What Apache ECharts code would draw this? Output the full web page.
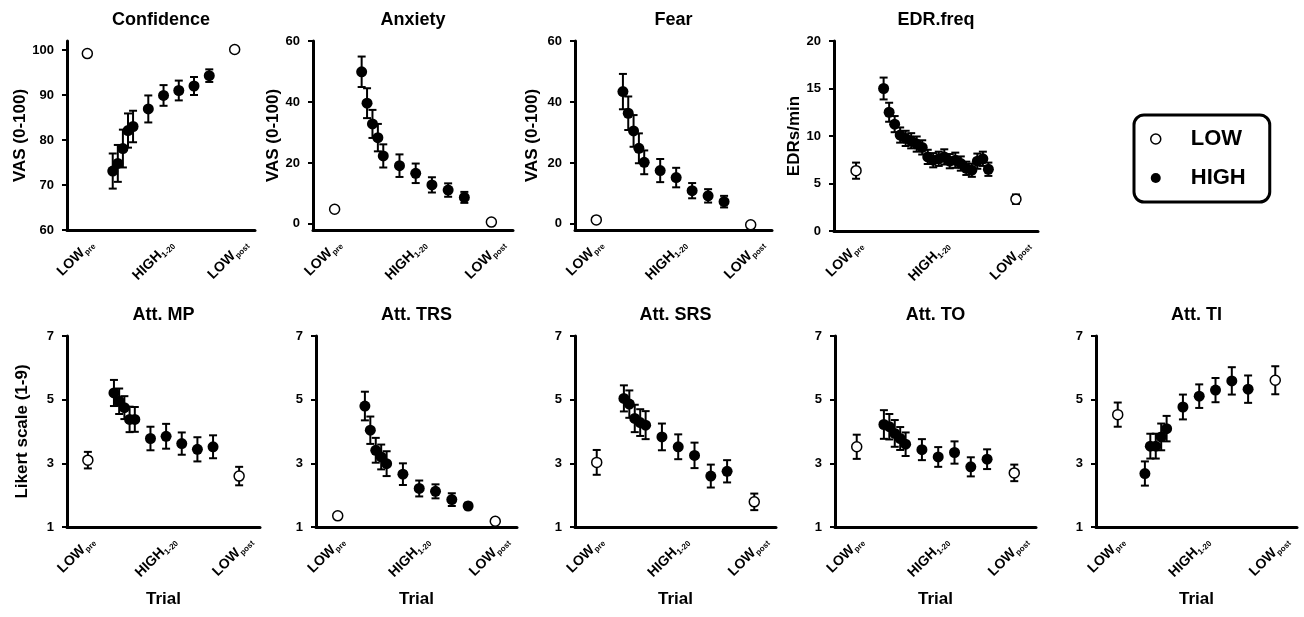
<!DOCTYPE html>
<html>
<head>
<meta charset="utf-8">
<title>LOW vs HIGH trials</title>
<script src="https://cdn.jsdelivr.net/npm/echarts@6/dist/echarts.min.js"></script>
<style>
  html, body { margin: 0; padding: 0; background: #fff; }
  #chart { width: 1304px; height: 617px; }
</style>
</head>
<body>
<div id="chart"></div>
<script>
// x positions (trial number), LOW pre / post sit outside the HIGH block
const highTrials = [1, 2, 3, 4, 5, 8, 11, 14, 17, 20]
const edrTrials = [1, 2, 3, 4, 5, 6, 7, 8, 9, 10, 11, 12, 13, 14, 15, 16, 17, 18, 19, 20]
const lowTrials = [-4, 25]

// x tick labels
const tickPos = [-3.2, 12.5, 27.1]
const tickMain = ['LOW', 'HIGH', 'LOW']
const tickSub = ['pre', '1-20', 'post']

// y tick labels
const confTicks = [60, 70, 80, 90, 100]
const vasTicks = [0, 20, 40, 60]
const edrTicks = [0, 5, 10, 15, 20]
const likertTicks = [1, 3, 5, 7]

// Confidence
const confHigh = [73.1, 74.8, 78.1, 82.1, 83.0, 86.9, 89.9, 91.0, 92.0, 94.3]
const confHighSem = [3.9, 4.1, 4.2, 3.8, 3.5, 3.0, 2.3, 2.2, 2.0, 1.4]
const confLow = [99.2, 100.1]
const confLowSem = [0.3, 0.3]
const confHash = [12, 70]

// Anxiety
const anxHigh = [49.9, 39.6, 32.8, 28.3, 22.3, 19.1, 16.6, 12.8, 11.1, 8.7]
const anxHighSem = [5.0, 4.9, 4.6, 4.5, 3.8, 3.7, 3.2, 2.5, 2.2, 1.8]
const anxLow = [4.8, 0.6]
const anxLowSem = [0.5, 0.4]
const anxHash = [12, 49.4]

// Fear
const fearHigh = [43.4, 36.3, 30.5, 24.8, 20.2, 17.5, 15.2, 10.9, 9.2, 7.3]
const fearHighSem = [5.8, 5.5, 5.2, 4.9, 3.9, 3.8, 3.2, 2.5, 2.2, 1.9]
const fearLow = [1.3, -0.3]
const fearLowSem = [0.6, 0.5]
const fearHash = [10.4, 49.6]

// EDR.freq (all 20 trials)
const edrHigh = [15.0, 12.5, 11.25, 10.1, 9.75, 9.5, 9.15, 8.8, 7.8, 7.45, 7.6, 7.8, 7.35, 7.45, 7.1, 6.6, 6.4, 7.35, 7.6, 6.5]
const edrHighSem = [1.15, 1.0, 0.85, 0.8, 0.8, 0.8, 0.8, 0.75, 0.75, 0.75, 0.75, 0.8, 0.75, 0.8, 0.75, 0.7, 0.7, 0.8, 0.75, 0.7]
const edrLow = [6.35, 3.35]
const edrLowSem = [0.85, 0.5]
const edrHash = [12, 16.4]

// Att. MP
const mpHigh = [5.21, 4.95, 4.75, 4.38, 4.38, 3.78, 3.85, 3.62, 3.44, 3.52]
const mpHighSem = [0.41, 0.4, 0.36, 0.4, 0.39, 0.37, 0.39, 0.35, 0.38, 0.36]
const mpLow = [3.1, 2.6]
const mpLowSem = [0.26, 0.29]
const mpHash = [10.4, 6.14]

// Att. TRS
const trsHigh = [4.8, 4.04, 3.41, 3.2, 2.99, 2.66, 2.21, 2.12, 1.86, 1.66]
const trsHighSem = [0.45, 0.43, 0.39, 0.39, 0.39, 0.34, 0.25, 0.22, 0.2, 0.1]
const trsLow = [1.35, 1.18]
const trsLowSem = [0.05, 0.05]
const trsHash = [11.2, 6.14]

// Att. SRS
const srsHigh = [5.04, 4.86, 4.41, 4.28, 4.2, 3.83, 3.52, 3.25, 2.6, 2.75]
const srsHighSem = [0.41, 0.43, 0.43, 0.42, 0.44, 0.42, 0.39, 0.4, 0.36, 0.35]
const srsLow = [3.03, 1.79]
const srsLowSem = [0.39, 0.26]
const srsHash = [13.2, 6.15]

// Att. TO
const toHigh = [4.22, 4.15, 3.94, 3.78, 3.6, 3.43, 3.2, 3.34, 2.89, 3.13]
const toHighSem = [0.45, 0.4, 0.42, 0.36, 0.37, 0.33, 0.31, 0.35, 0.3, 0.31]
const toLow = [3.52, 2.7]
const toLowSem = [0.38, 0.26]

// Att. TI
const tiHigh = [2.68, 3.54, 3.54, 3.83, 4.09, 4.77, 5.11, 5.3, 5.59, 5.33]
const tiHighSem = [0.38, 0.39, 0.39, 0.42, 0.4, 0.39, 0.37, 0.38, 0.43, 0.43]
const tiLow = [4.53, 5.61]
const tiLowSem = [0.38, 0.44]
const tiHash = [11.4, 2.05]

const FONT = "'Liberation Sans', Arial, sans-serif"

// box = [left, top, width, height] of each plot area
const panels = [
  { title: 'Confidence', yName: 'VAS (0-100)', nameGap: 38, yMin: 60, yMax: 102, ticks: confTicks, hx: highTrials, high: confHigh, highSem: confHighSem, low: confLow, lowSem: confLowSem, hash: confHash, box: [67, 41, 188, 189] },
  { title: 'Anxiety', yName: 'VAS (0-100)', nameGap: 31, yMin: -2, yMax: 60, ticks: vasTicks, hx: highTrials, high: anxHigh, highSem: anxHighSem, low: anxLow, lowSem: anxLowSem, hash: anxHash, box: [313, 41, 200, 189] },
  { title: 'Fear', yName: 'VAS (0-100)', nameGap: 34, yMin: -2, yMax: 60, ticks: vasTicks, hx: highTrials, high: fearHigh, highSem: fearHighSem, low: fearLow, lowSem: fearLowSem, hash: fearHash, box: [575, 41, 197, 189] },
  { title: 'EDR.freq', yName: 'EDRs/min', nameGap: 30, yMin: 0, yMax: 20, ticks: edrTicks, hx: edrTrials, high: edrHigh, highSem: edrHighSem, low: edrLow, lowSem: edrLowSem, hash: edrHash, box: [834, 41, 204, 190] },
  { title: 'Att. MP', yName: 'Likert scale (1-9)', nameGap: 36, yMin: 1, yMax: 7, ticks: likertTicks, hx: highTrials, high: mpHigh, highSem: mpHighSem, low: mpLow, lowSem: mpLowSem, hash: mpHash, box: [67, 336, 193, 191], trial: true },
  { title: 'Att. TRS', yName: '', nameGap: 30, yMin: 1, yMax: 7, ticks: likertTicks, hx: highTrials, high: trsHigh, highSem: trsHighSem, low: trsLow, lowSem: trsLowSem, hash: trsHash, box: [316, 336, 201, 191], trial: true },
  { title: 'Att. SRS', yName: '', nameGap: 30, yMin: 1, yMax: 7, ticks: likertTicks, hx: highTrials, high: srsHigh, highSem: srsHighSem, low: srsLow, lowSem: srsLowSem, hash: srsHash, box: [575, 336, 201, 191], trial: true },
  { title: 'Att. TO', yName: '', nameGap: 30, yMin: 1, yMax: 7, ticks: likertTicks, hx: highTrials, high: toHigh, highSem: toHighSem, low: toLow, lowSem: toLowSem, hash: null, box: [835, 336, 201, 191], trial: true },
  { title: 'Att. TI', yName: '', nameGap: 30, yMin: 1, yMax: 7, ticks: likertTicks, hx: highTrials, high: tiHigh, highSem: tiHighSem, low: tiLow, lowSem: tiLowSem, hash: tiHash, box: [1096, 336, 201, 191], trial: true },
]

function renderErrorBar(params, api) {
  const x = api.value(0)
  const top = api.coord([x, api.value(2)])
  const bot = api.coord([x, api.value(1)])
  const half = 4
  const style = { stroke: '#000', lineWidth: 2 }
  return {
    type: 'group',
    children: [
      { type: 'line', shape: { x1: top[0], y1: top[1], x2: bot[0], y2: bot[1] }, style },
      { type: 'line', shape: { x1: top[0] - half, y1: top[1], x2: top[0] + half, y2: top[1] }, style },
      { type: 'line', shape: { x1: bot[0] - half, y1: bot[1], x2: bot[0] + half, y2: bot[1] }, style },
    ],
  }
}

function tickFormatter(value) {
  let k = 0
  tickPos.forEach((p, i) => {
    if (Math.abs(p - value) < Math.abs(tickPos[k] - value)) k = i
  })
  return '{m|' + tickMain[k] + '}{s|' + tickSub[k] + '}'
}

const grids = []
const xAxes = []
const yAxes = []
const series = []
const graphics = []

panels.forEach((p, i) => {
  const [left, top, width, height] = p.box
  grids.push({ left, top, width, height })

  graphics.push({
    type: 'text',
    x: left + width / 2,
    y: top - 21,
    style: { text: p.title, font: 'bold 18px ' + FONT, fill: '#000', align: 'center', verticalAlign: 'middle' },
  })

  xAxes.push({
    gridIndex: i,
    type: 'value',
    min: -8,
    max: 29,
    axisLine: { onZero: false, lineStyle: { color: '#000', width: 3 } },
    axisTick: { show: false },
    splitLine: { show: false },
    axisLabel: {
      customValues: tickPos,
      rotate: 45,
      margin: 12,
      formatter: tickFormatter,
      rich: {
        m: { fontFamily: FONT, fontWeight: 'bold', fontSize: 14, color: '#000', lineHeight: 17, verticalAlign: 'middle' },
        s: { fontFamily: FONT, fontWeight: 'bold', fontSize: 8, color: '#000', lineHeight: 9, verticalAlign: 'bottom' },
      },
    },
    name: p.trial ? 'Trial' : '',
    nameLocation: 'middle',
    nameGap: 64,
    nameTextStyle: { fontFamily: FONT, fontWeight: 'bold', fontSize: 17, color: '#000' },
  })

  yAxes.push({
    gridIndex: i,
    type: 'value',
    min: p.yMin,
    max: p.yMax,
    axisLine: { onZero: false, lineStyle: { color: '#000', width: 3 } },
    axisTick: { customValues: p.ticks, length: 5, lineStyle: { color: '#000', width: 2 } },
    splitLine: { show: false },
    axisLabel: { customValues: p.ticks, margin: 13, fontFamily: FONT, fontWeight: 'bold', fontSize: 13, color: '#000' },
    name: p.yName,
    nameLocation: 'middle',
    nameGap: p.nameGap,
    nameTextStyle: { fontFamily: FONT, fontWeight: 'bold', fontSize: 17, color: '#000' },
  })

  const highBars = p.hx.map((t, j) => [t, p.high[j] - p.highSem[j], p.high[j] + p.highSem[j]])
  const lowBars = lowTrials.map((t, j) => [t, p.low[j] - p.lowSem[j], p.low[j] + p.lowSem[j]])

  series.push({
    type: 'custom',
    xAxisIndex: i,
    yAxisIndex: i,
    renderItem: renderErrorBar,
    encode: { x: 0, y: [1, 2] },
    data: highBars.concat(lowBars),
    silent: true,
    z: 2,
  })
  series.push({
    name: 'LOW',
    type: 'scatter',
    xAxisIndex: i,
    yAxisIndex: i,
    symbol: 'circle',
    symbolSize: 10,
    itemStyle: { color: '#fff', borderColor: '#000', borderWidth: 1.5, opacity: 1 },
    data: lowTrials.map((t, j) => [t, p.low[j]]),
    z: 3,
  })
  series.push({
    name: 'HIGH',
    type: 'scatter',
    xAxisIndex: i,
    yAxisIndex: i,
    symbol: 'circle',
    symbolSize: 11,
    itemStyle: { color: '#000', opacity: 1 },
    data: p.hx.map((t, j) => [t, p.high[j]]),
    z: 3,
  })
  if (p.hash) {
    series.push({
      name: '#',
      type: 'scatter',
      xAxisIndex: i,
      yAxisIndex: i,
      symbolSize: 1,
      itemStyle: { opacity: 0 },
      label: { show: true, position: 'inside', formatter: '#', fontFamily: FONT, fontWeight: 'bold', fontSize: 18, color: '#000' },
      data: [p.hash],
      silent: true,
    })
  }
})

const chart = echarts.init(document.getElementById('chart'))
chart.setOption({
  animation: false,
  backgroundColor: '#fff',
  textStyle: { fontFamily: FONT },
  grid: grids,
  xAxis: xAxes,
  yAxis: yAxes,
  graphic: graphics,
  legend: {
    left: 1134,
    top: 115,
    orient: 'vertical',
    selectedMode: false,
    padding: [13, 24, 13, 16],
    itemGap: 17,
    itemWidth: 10,
    itemHeight: 10,
    borderColor: '#000',
    borderWidth: 3,
    borderRadius: 10,
    textStyle: { fontFamily: FONT, fontWeight: 'bold', fontSize: 22, color: '#000', padding: [0, 0, 0, 25] },
    data: [
      { name: 'LOW', icon: 'circle', itemStyle: { color: '#fff', borderColor: '#000', borderWidth: 1.5 } },
      { name: 'HIGH', icon: 'circle', itemStyle: { color: '#000' } },
    ],
  },
  series,
})
</script>
</body>
</html>
